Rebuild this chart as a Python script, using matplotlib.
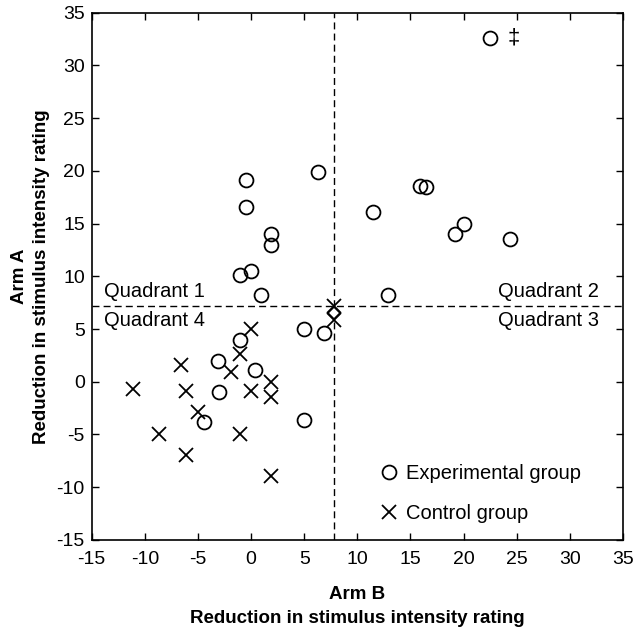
import matplotlib
matplotlib.use("Agg")
import matplotlib.pyplot as plt
from matplotlib.lines import Line2D

plt.rcParams['font.family'] = ['Liberation Sans', 'DejaVu Sans']
plt.rcParams['axes.unicode_minus'] = False

# Experimental group (circles)
exp_x = [-0.5, -0.5, 1.9, 1.9, -1.0, 0.0, 0.9, 6.3, 22.5, 15.9, 16.5, 11.5,
         20.0, 19.2, 24.4, 12.9, 5.0, 6.9, -1.0, -3.1, 0.4, -3.0, -4.4, 5.0]
exp_y = [19.1, 16.6, 14.0, 13.0, 10.1, 10.5, 8.2, 19.9, 32.6, 18.6, 18.5, 16.1,
         15.0, 14.0, 13.5, 8.2, 5.0, 4.6, 4.0, 2.0, 1.1, -1.0, -3.85, -3.6]

# Control group (crosses)
ctl_x = [-11.1, -6.6, -6.1, -5.0, -8.7, -6.1, -1.9, -1.0, 0.0, 0.0, -1.0,
         1.9, 1.9, 1.9, 7.8, 7.8]
ctl_y = [-0.7, 1.6, -0.9, -2.9, -5.0, -6.9, 0.9, 2.6, 5.0, -0.9, -5.0,
         0.0, -1.4, -8.9, 7.2, 5.9]

# Summary marker and quadrant boundaries
mean_x = [7.8]
mean_y = [6.55]
x_cut = 7.8
y_cut = 7.2

xticks = [-15, -10, -5, 0, 5, 10, 15, 20, 25, 30, 35]
yticks = [-15, -10, -5, 0, 5, 10, 15, 20, 25, 30, 35]

fig = plt.figure(figsize=(6.39, 6.33), dpi=100)
ax = fig.add_axes([0.1435, 0.147, 0.8315, 0.833])

ax.axvline(x_cut, color='black', lw=1.0, ls=(0, (5, 3)), zorder=1)
ax.axhline(y_cut, color='black', lw=1.0, ls=(0, (5, 3)), zorder=1)

ax.plot(exp_x, exp_y, 'o', mfc='none', mec='black', ms=10, mew=1.3, zorder=3)
ax.plot(ctl_x, ctl_y, 'x', color='black', ms=10, mew=1.3, zorder=3)
ax.plot(mean_x, mean_y, 'D', mfc='white', mec='black', ms=6, mew=1.1, zorder=2)

ax.text(24.7, 32.6, '‡', fontsize=16, ha='center', va='center')

qfs = 14.5
ax.text(-13.8, y_cut + 0.5, 'Quadrant 1', fontsize=qfs, ha='left', va='bottom')
ax.text(-13.8, y_cut - 0.5, 'Quadrant 4', fontsize=qfs, ha='left', va='top')
ax.text(32.7, y_cut + 0.5, 'Quadrant 2', fontsize=qfs, ha='right', va='bottom')
ax.text(32.7, y_cut - 0.5, 'Quadrant 3', fontsize=qfs, ha='right', va='top')

ax.set_xlim(-15, 35)
ax.set_ylim(-15, 35)
ax.set_xticks(xticks)
ax.set_yticks(yticks)
ax.tick_params(direction='in', length=5, width=1, labelsize=14, top=True, right=True,
               labeltop=False, labelright=False)
ax.tick_params(axis='x', pad=8)
ax.tick_params(axis='y', pad=5)
for s in ax.spines.values():
    s.set_linewidth(1.2)

ax.set_xlabel('Arm B\nReduction in stimulus intensity rating', fontsize=13.5,
              fontweight='bold', linespacing=1.55)
ax.set_ylabel('Arm A\nReduction in stimulus intensity rating', fontsize=13.5,
              fontweight='bold', linespacing=1.35)
ax.xaxis.set_label_coords(0.5, -0.087)
ax.yaxis.set_label_coords(-0.079, 0.5)

handles = [Line2D([], [], marker='o', ls='none', mfc='none', mec='black', ms=10, mew=1.3),
           Line2D([], [], marker='x', ls='none', color='black', ms=10, mew=1.3)]
ax.legend(handles, ['Experimental group', 'Control group'], loc='lower left',
          bbox_to_anchor=(0.51, -0.002), frameon=False, fontsize=14.5,
          handlelength=0.8, handletextpad=0.45, labelspacing=1.05)

fig.savefig('out.png', dpi=100)
